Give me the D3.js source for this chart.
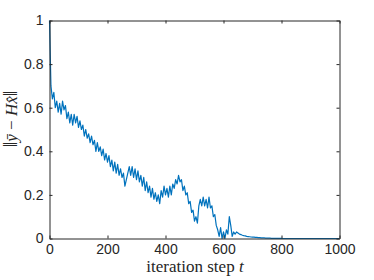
<!DOCTYPE html>
<html>
<head>
<meta charset="utf-8">
<script src="https://cdn.jsdelivr.net/npm/d3@7"></script>
<style>
  body { margin: 0; background: #fff; }
  svg { display: block; }
</style>
</head>
<body>
<svg width="374" height="280"></svg>
<script>
// residual ||y - Hx|| sampled every 5 iterations (t = 0, 5, 10, ...)
var stepSize = 5;
var residual = [
  1.00, 0.70, 0.64, 0.67, 0.60, 0.63, 0.58, 0.62, 0.57, 0.63,
  0.59, 0.61, 0.55, 0.58, 0.53, 0.57, 0.52, 0.57, 0.53, 0.56,
  0.51, 0.54, 0.50, 0.52, 0.47, 0.50, 0.46, 0.48, 0.44, 0.47,
  0.43, 0.45, 0.40, 0.44, 0.40, 0.42, 0.38, 0.41, 0.36, 0.39,
  0.35, 0.38, 0.33, 0.36, 0.31, 0.35, 0.30, 0.34, 0.29, 0.32,
  0.28, 0.30, 0.24, 0.27, 0.30, 0.33, 0.29, 0.33, 0.28, 0.32,
  0.27, 0.31, 0.26, 0.29, 0.24, 0.28, 0.22, 0.26, 0.21, 0.24,
  0.19, 0.23, 0.18, 0.21, 0.17, 0.20, 0.16, 0.22, 0.19, 0.24,
  0.20, 0.23, 0.19, 0.24, 0.20, 0.25, 0.23, 0.27, 0.25, 0.29,
  0.26, 0.27, 0.22, 0.24, 0.20, 0.21, 0.16, 0.17, 0.12, 0.13,
  0.08, 0.10, 0.07, 0.15, 0.18, 0.15, 0.19, 0.15, 0.18, 0.14,
  0.19, 0.14, 0.15, 0.10, 0.11, 0.06, 0.04, 0.01, 0.05, 0.00,
  0.03, 0.00, 0.04, 0.02, 0.10, 0.06, 0.01, 0.03, 0.02, 0.03,
  0.025, 0.02, 0.018, 0.015, 0.013, 0.012, 0.010, 0.009, 0.008, 0.007,
  0.006, 0.006, 0.005, 0.005, 0.004, 0.004, 0.003, 0.003, 0.003, 0.002,
  0.002, 0.002, 0.002, 0.001, 0.001, 0.001, 0.001, 0.001, 0.001, 0.001,
  0.001, 0, 0, 0, 0, 0, 0, 0, 0, 0,
  0, 0, 0, 0, 0, 0, 0, 0, 0, 0,
  0, 0, 0, 0, 0, 0, 0, 0, 0, 0,
  0, 0, 0, 0, 0, 0, 0, 0, 0, 0,
  0
];
var xTicks = [0, 200, 400, 600, 800, 1000];
var yTicks = [0, 0.2, 0.4, 0.6, 0.8, 1];

var plotLeft = 49.5, plotRight = 339.5, plotTop = 20.5, plotBottom = 238.5;
var axisColor = '#262626';

var svg = d3.select('svg');

var x = d3.scaleLinear().domain([0, 1000]).range([plotLeft, plotRight]);
var y = d3.scaleLinear().domain([0, 1]).range([plotBottom, plotTop]);

// the curve
var line = d3.line()
    .x((d, i) => x(i * stepSize))
    .y(d => y(d));

svg.append('path')
    .datum(residual)
    .attr('d', line)
    .attr('fill', 'none')
    .attr('stroke', '#0072BD')
    .attr('stroke-width', 1.2)
    .attr('stroke-linejoin', 'round');

// axes, ticks pointing inward, box on
function styleAxis(g, showText) {
  g.select('.domain').attr('stroke', axisColor).attr('stroke-width', 1);
  g.selectAll('.tick line').attr('stroke', axisColor).attr('stroke-width', 1);
  g.selectAll('.tick text')
      .attr('fill', axisColor)
      .style('font-family', '"Liberation Sans", Arial, sans-serif')
      .style('font-size', '14px')
      .style('display', showText ? null : 'none');
}

svg.append('g')
    .attr('transform', 'translate(0,' + plotBottom + ')')
    .call(d3.axisBottom(x).tickValues(xTicks).tickFormat(d3.format('d'))
      .tickSizeInner(-3).tickSizeOuter(0).tickPadding(6))
    .call(g => styleAxis(g, true));

svg.append('g')
    .attr('transform', 'translate(0,' + plotTop + ')')
    .call(d3.axisTop(x).tickValues(xTicks).tickSizeInner(-3).tickSizeOuter(0))
    .call(g => styleAxis(g, false));

svg.append('g')
    .attr('transform', 'translate(' + plotLeft + ',0)')
    .call(d3.axisLeft(y).tickValues(yTicks).tickFormat(d3.format('~g'))
      .tickSizeInner(-3).tickSizeOuter(0).tickPadding(6))
    .call(g => styleAxis(g, true));

svg.append('g')
    .attr('transform', 'translate(' + plotRight + ',0)')
    .call(d3.axisRight(y).tickValues(yTicks).tickSizeInner(-3).tickSizeOuter(0))
    .call(g => styleAxis(g, false));

// labels
svg.append('text')
    .attr('x', 195)
    .attr('y', 272)
    .attr('text-anchor', 'middle')
    .attr('fill', axisColor)
    .style('font-family', '"Liberation Serif", "DejaVu Serif", serif')
    .style('font-size', '17px')
    .text('iteration step ')
  .append('tspan')
    .style('font-style', 'italic')
    .text('t');

var yl = svg.append('text')
    .attr('transform', 'translate(17,119) rotate(-90)')
    .attr('text-anchor', 'middle')
    .attr('fill', axisColor)
    .style('font-family', '"Liberation Serif", "DejaVu Serif", serif')
    .style('font-size', '17px');
yl.append('tspan').style('font-size', '20px').text('\u2016');
yl.append('tspan').style('font-style', 'italic').text('\u0233');
yl.append('tspan').text(' \u2212 ');
yl.append('tspan').style('font-style', 'italic').text('H');
yl.append('tspan').style('font-style', 'italic').text('x\u0302');
yl.append('tspan').style('font-size', '20px').text('\u2016');
</script>
</body>
</html>
